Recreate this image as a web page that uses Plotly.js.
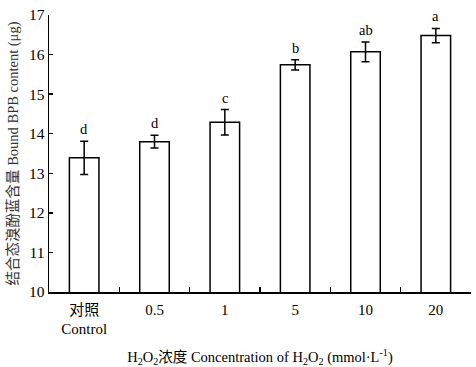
<!DOCTYPE html>
<html>
<head>
<meta charset="utf-8">
<script src="https://cdn.plot.ly/plotly-3.0.1.min.js"></script>
<style>html,body{margin:0;padding:0;background:#fff;}#chart{width:476px;height:367px;}</style>
</head>
<body>
<div id="chart"></div>
<script>
const categories = ["对照<br>Control", "0.5", "1", "5", "10", "20"];
const values = [13.39, 13.80, 14.29, 15.74, 16.07, 16.48];
const errors = [0.42, 0.16, 0.32, 0.13, 0.25, 0.18];
const letters = ["d", "d", "c", "b", "ab", "a"];
const yTicks = [10, 11, 12, 13, 14, 15, 16, 17];

const fontFam = '"Liberation Serif", "Times New Roman", "Noto Sans CJK SC", serif';

const trace = {
  type: 'bar',
  x: categories,
  y: values,
  width: 0.42,
  marker: {color: '#ffffff', line: {color: '#000000', width: 1.5}},
  error_y: {type: 'data', array: errors, visible: true, color: '#000000', thickness: 1.5, width: 4},
  hoverinfo: 'none'
};

const annotations = categories.map((c, i) => ({
  x: i, y: values[i] + errors[i], xref: 'x', yref: 'y',
  text: letters[i], showarrow: false, yanchor: 'bottom', yshift: 2,
  font: {family: fontFam, size: 14.5, color: '#000'}
}));

const layout = {
  width: 476, height: 367,
  margin: {l: 49, r: 5, t: 15, b: 75},
  paper_bgcolor: '#fff', plot_bgcolor: '#fff',
  showlegend: false,
  font: {family: fontFam, size: 14, color: '#000'},
  xaxis: {
    type: 'category',
    categoryorder: 'array', categoryarray: categories,
    range: [-0.5, categories.length - 0.5],
    tickangle: 0,
    showline: true, linecolor: '#000', linewidth: 1.5,
    ticks: 'inside', tickson: 'boundaries', ticklen: 5, tickwidth: 1.5, tickcolor: '#000',
    ticklabelstandoff: 3,
    showgrid: false, zeroline: false,
    tickfont: {family: fontFam, size: 15, color: '#000'},
    title: {text: 'H<sub>2</sub>O<sub>2</sub>浓度 Concentration of H<sub>2</sub>O<sub>2</sub> (mmol·L<sup>-1</sup>)', font: {family: fontFam, size: 14.5, color: '#000'}, standoff: 20}
  },
  yaxis: {
    range: [10, 17], tickvals: yTicks,
    showline: true, linecolor: '#000', linewidth: 1.5,
    ticks: 'inside', ticklen: 4, tickwidth: 1.5, tickcolor: '#000',
    showgrid: false, zeroline: false,
    tickfont: {family: fontFam, size: 15.5, color: '#000'},
    title: {text: '结合态溴酚蓝含量 Bound BPB content (μg)', font: {family: fontFam, size: 14.5, color: '#333'}, standoff: 7}
  },
  annotations: annotations
};

Plotly.newPlot('chart', [trace], layout, {staticPlot: true, displayModeBar: false});
</script>
</body>
</html>
